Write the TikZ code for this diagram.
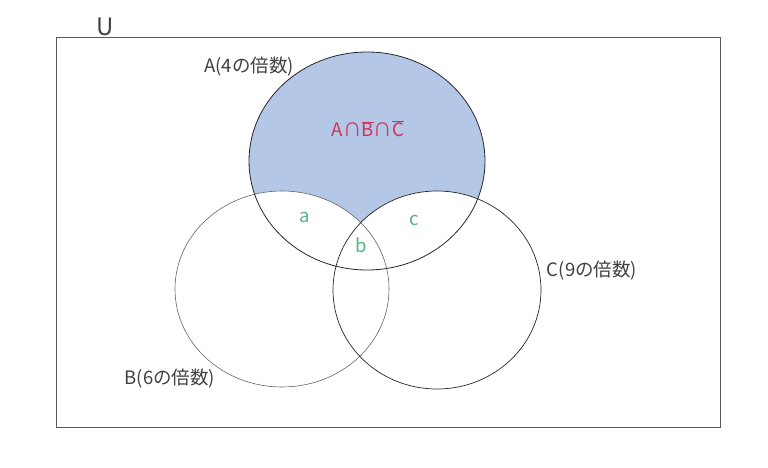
\documentclass[tikz,border=0pt]{standalone}
\usepackage{fontspec}
\setmainfont{Noto Sans CJK JP}
\usetikzlibrary{positioning}
\tikzset{
    % Colors
    set fill/.style={fill={rgb,255:red,180;green,199;blue,231}},
    frame color/.style={draw={rgb,255:red,90;green,90;blue,90}},
    part color/.style={color={rgb,255:red,85;green,180;blue,135}},
    formula color/.style={color={rgb,255:red,210;green,50;blue,85}},
    %
    % Sets
    set line/.style={line width=0.7pt,draw=black!85},
    set label/.style={font=\fontsize{18.5}{20}\selectfont,text=black!75,inner sep=1pt},
    part label/.style={part color,font=\fontsize{18.5}{20}\selectfont,inner sep=1pt},
}
\begin{document}
\begin{tikzpicture}[x=1pt,y=-1pt]
        \useasboundingbox (0,0) rectangle (768,468);
        \node[draw=none,minimum width=663pt,minimum height=389pt,inner sep=0pt] (Universe) at (388.5,232.5) {};
        \node[set label,font=\fontsize{24}{26}\selectfont] (Label U) at (105,27) {U};
        %
        \coordinate (Center A) at (367,161);
        \coordinate (Center B) at (282,289);
        \coordinate (Center C) at (437,290);
        \fill[set fill] (Center A) ellipse [x radius=118,y radius=109];
        \fill[white] (Center B) ellipse [x radius=107,y radius=98];
        \fill[white] (Center C) ellipse [x radius=104,y radius=99];
        \draw[set line,draw=black!60,line width=0.6pt] (Center B) ellipse [x radius=107,y radius=98];
        \draw[set line] (Center C) ellipse [x radius=104,y radius=99];
        \draw[set line,line width=0.8pt] (Center A) ellipse [x radius=118,y radius=109];
        \draw[frame color,line width=0.8pt] (Universe.north west) rectangle (Universe.south east);
        %
        \node[set label] (Label A) at (249,67) {A(4の倍数)};
        \node[set label] (Label B) at (170,379) {B(6の倍数)};
        \node[set label] (Label C) at (592,271) {C(9の倍数)};
        \node[formula color,font=\fontsize{18.5}{20}\selectfont] (Only A) at (368,129) {A∩$\overline{\mbox{B}}$∩$\overline{\mbox{C}}$};
        \node[part label] (Part a) at (305,217) {a};
        \node[part label] (Part b) at (361,245) {b};
        \node[part label] (Part c) at (414,220) {c};
    \end{tikzpicture}
\end{document}
